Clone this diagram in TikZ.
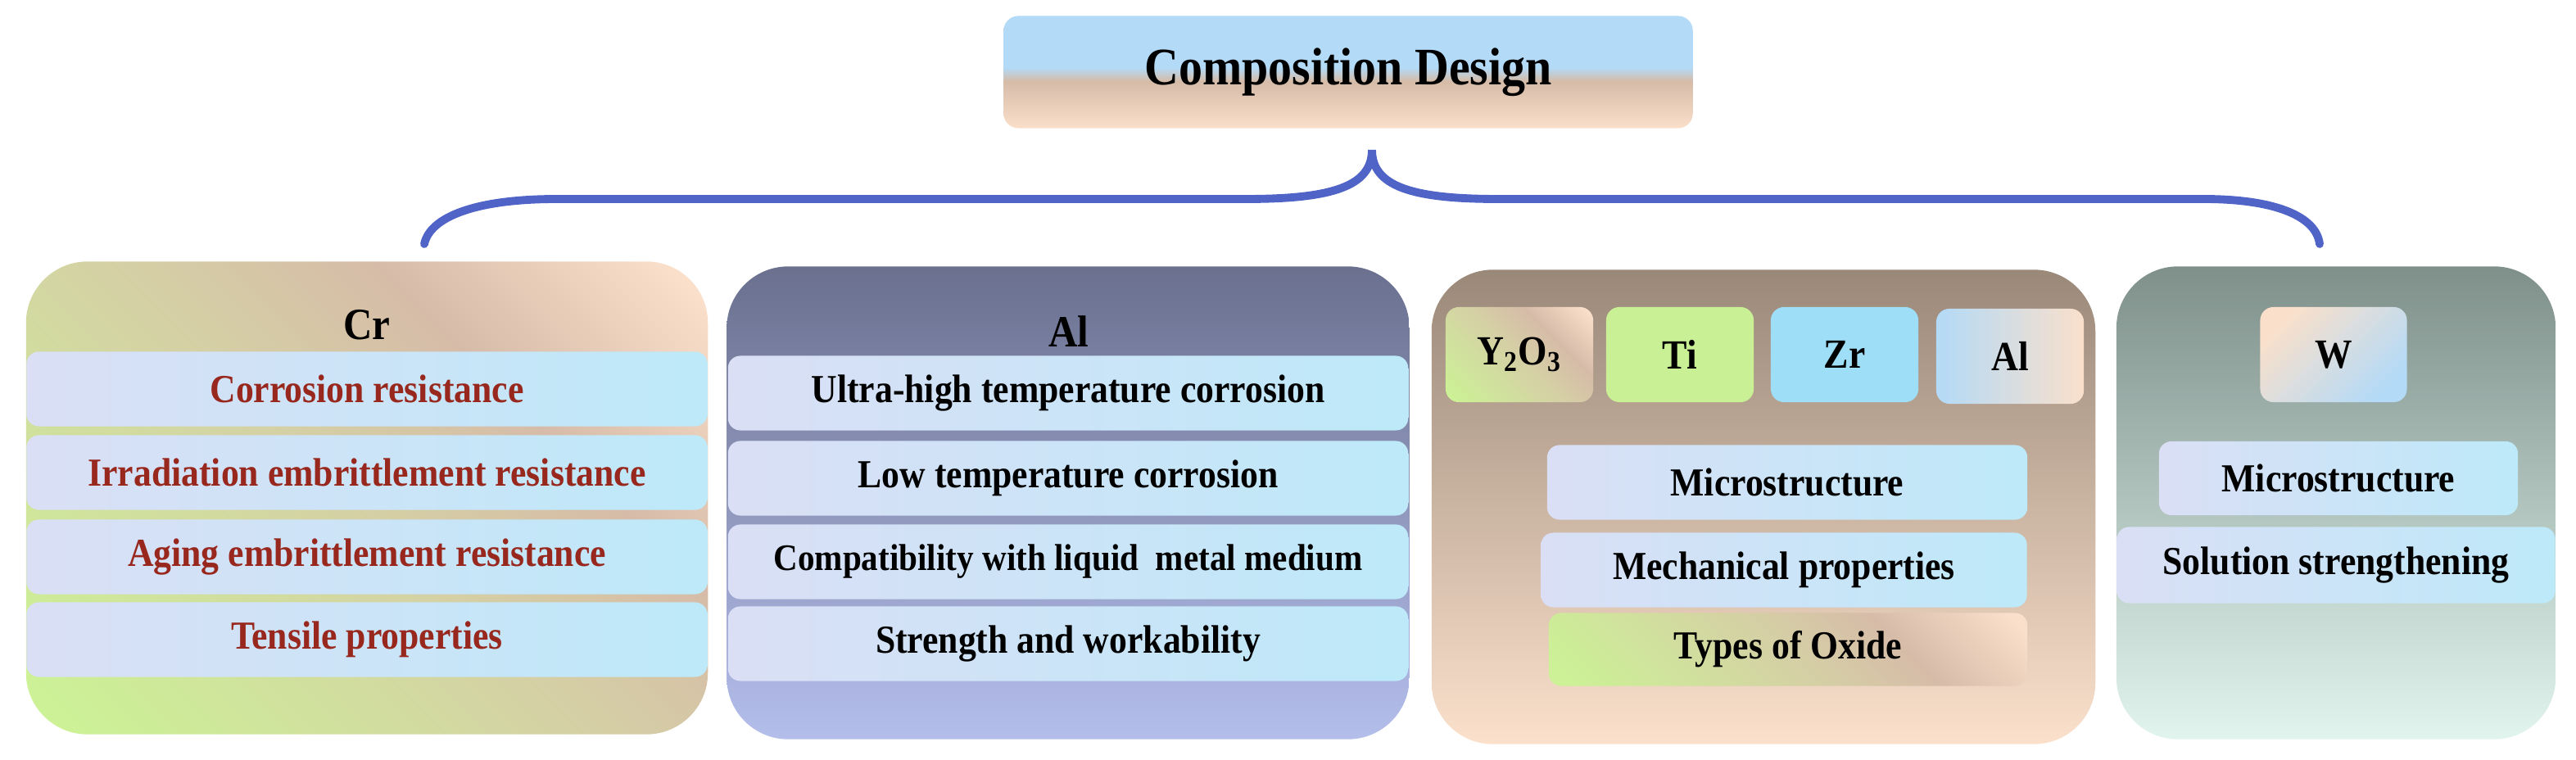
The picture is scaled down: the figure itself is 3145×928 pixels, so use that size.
\documentclass[tikz,border=0pt]{standalone}
\usepackage{fontspec}
\setmainfont{Liberation Serif}[FakeStretch=0.9]
\usetikzlibrary{positioning}

\definecolor{barL}{RGB}{218,223,245}
\definecolor{barR}{RGB}{189,233,249}
\definecolor{crRed}{RGB}{152,40,30}
\definecolor{cdPeach}{RGB}{250,224,203}
\definecolor{cdTan}{RGB}{214,188,168}
\definecolor{cdOlive}{RGB}{213,207,165}
\definecolor{cdLime}{RGB}{204,241,150}
\definecolor{cdSky}{RGB}{179,218,247}
\definecolor{alTop}{RGB}{106,112,142}
\definecolor{alBot}{RGB}{180,190,235}
\definecolor{oxTop}{RGB}{154,136,121}
\definecolor{oxBot}{RGB}{251,225,204}
\definecolor{wTop}{RGB}{127,144,139}
\definecolor{wBot}{RGB}{225,245,238}
\definecolor{tiGreen}{RGB}{201,240,148}
\definecolor{zrBlue}{RGB}{158,222,246}
\definecolor{cdGrey}{RGB}{226,224,224}
\definecolor{braceBlue}{RGB}{80,100,200}

\pgfdeclareverticalshading{titleshade}{100bp}{color(0bp)=(cdPeach); color(25bp)=(cdPeach); color(46bp)=(cdTan); color(52bp)=(cdSky); color(75bp)=(cdSky); color(100bp)=(cdSky)}
\pgfdeclareverticalshading{limeshade}{100bp}{color(0bp)=(cdLime); color(18bp)=(cdLime); color(50bp)=(cdOlive); color(65bp)=(cdTan); color(83bp)=(cdPeach); color(100bp)=(cdPeach)}

\newcommand{\cdTitle}{\fontsize{18.3}{22}\selectfont\bfseries}
\newcommand{\cdHead}{\fontsize{15.5}{18}\selectfont\bfseries}
\newcommand{\cdTag}{\fontsize{14.4}{17}\selectfont\bfseries}
\newcommand{\cdBody}{\fontsize{13.8}{16}\selectfont\bfseries}

\begin{document}
\begin{tikzpicture}[x=0.01cm,y=-0.01cm]
        \tikzstyle{every node}=[inner sep=0pt,align=center]
        \tikzstyle{panel}=[rectangle,rounded corners=0.75cm,minimum height=5.77cm]
        \tikzstyle{bar}=[rectangle,rounded corners=0.15cm,left color=barL,right color=barR,minimum height=0.91cm,font=\cdBody]
        \tikzstyle{tag}=[rectangle,rounded corners=0.16cm,minimum width=1.8cm,minimum height=1.16cm,font=\cdTag]
        \tikzstyle{limey}=[shade,shading=limeshade,shading angle=-45]
        \tikzstyle{brace}=[draw=braceBlue,line width=2.8pt,line cap=round]
        \useasboundingbox (0,0) rectangle (3145,928);

        \node[rectangle,rounded corners=0.18cm,shade,shading=titleshade,minimum width=8.41cm,minimum height=1.37cm,font=\cdTitle] (design) at (1646,88) {Composition Design};

        % brace
        \coordinate (tip) at (1675,183);
        \coordinate (crend) at (518,298);
        \coordinate (wend) at (2832,298);
        \draw[brace] (crend) .. controls (525,265) and (580,243) .. (680,243) -- (1521,243)
            .. controls (1625,243) and (1675,228) .. (tip)
            .. controls (1675,228) and (1725,243) .. (1829,243) -- (2690,243)
            .. controls (2780,243) and (2828,265) .. (wend);

        % Cr
        \node[panel,minimum width=8.32cm,limey] (cr) at (448,608) {};
        \node[font=\cdHead] (crhead) at (448,397) {Cr};
        \node[bar,minimum width=8.31cm,text=crRed] (cr1) at (448,475) {Corrosion resistance};
        \node[bar,minimum width=8.31cm,text=crRed] (cr2) at (448,577) {Irradiation embrittlement resistance};
        \node[bar,minimum width=8.31cm,text=crRed] (cr3) at (448,680) {Aging embrittlement resistance};
        \node[bar,minimum width=8.31cm,text=crRed] (cr4) at (448,781) {Tensile properties};

        % Al
        \node[panel,minimum width=8.33cm,top color=alTop,bottom color=alBot] (al) at (1304,614) {};
        \node[font=\cdHead] (alhead) at (1305,405) {Al};
        \node[bar,minimum width=8.3cm] (al1) at (1304,480) {Ultra-high temperature corrosion};
        \node[bar,minimum width=8.3cm] (al2) at (1304,584) {Low temperature corrosion};
        \node[bar,minimum width=8.3cm,font=\fontsize{13}{15}\selectfont\bfseries] (al3) at (1304,686) {Compatibility with liquid~ metal medium};
        \node[bar,minimum width=8.3cm] (al4) at (1304,786) {Strength and workability};

        % oxide
        \node[panel,minimum width=8.1cm,minimum height=5.79cm,top color=oxTop,bottom color=oxBot] (ox) at (2153,619) {};
        \node[tag,limey] (y2o3) at (1855,433) {Y\textsubscript{2}O\textsubscript{3}};
        \node[tag,fill=tiGreen] (ti) at (2051,433) {Ti};
        \node[tag,fill=zrBlue] (zr) at (2252,433) {Zr};
        \node[tag,left color=cdSky,middle color=cdGrey,right color=cdPeach] (alx) at (2454,435) {Al};
        \node[bar,minimum width=5.86cm] (ox1) at (2182,589) {Microstructure};
        \node[bar,minimum width=5.93cm] (ox2) at (2178,696) {Mechanical properties};
        \node[bar,minimum width=5.84cm,minimum height=0.89cm,limey] (ox3) at (2183,793) {Types of Oxide};

        % W
        \node[panel,minimum width=5.36cm,top color=wTop,bottom color=wBot] (w) at (2852,614) {};
        \node[tag,minimum width=1.79cm,top color=cdPeach,middle color=cdGrey,bottom color=cdSky,shading angle=45] (wx) at (2849,433) {W};
        \node[bar,minimum width=4.38cm,minimum height=0.9cm] (w1) at (2855,584) {Microstructure};
        \node[bar,minimum width=5.35cm,minimum height=0.93cm] (w2) at (2852,690) {Solution strengthening};
\end{tikzpicture}
\end{document}
